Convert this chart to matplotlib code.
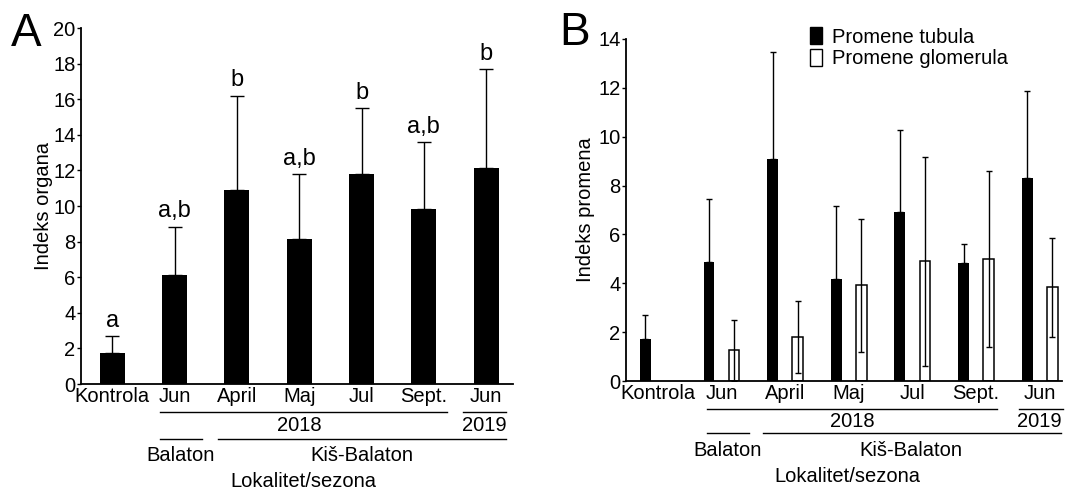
import matplotlib
matplotlib.use("Agg")
import matplotlib.pyplot as plt
import matplotlib.transforms as mtransforms
from matplotlib.patches import Patch
import numpy as np

plt.rcParams['font.family'] = ['Liberation Sans', 'DejaVu Sans']

# ---------------- data ----------------
categories = ["Kontrola", "Jun", "April", "Maj", "Jul", "Sept.", "Jun"]
organ_mean = [1.74, 6.14, 10.9, 8.13, 11.8, 9.83, 12.15]
organ_err = [0.96, 2.70, 5.3, 3.67, 3.7, 3.77, 5.55]
organ_letters = ["a", "a,b", "b", "a,b", "b", "a,b", "b"]

tubula_mean = [1.74, 4.89, 9.08, 4.19, 6.91, 4.82, 8.32]
tubula_err = [0.96, 2.56, 4.37, 2.97, 3.36, 0.79, 3.54]
glom_mean = [0.0, 1.27, 1.80, 3.92, 4.90, 5.01, 3.84]
glom_err = [0.0, 1.25, 1.48, 2.71, 4.28, 3.60, 2.03]

yticks_a = [0, 2, 4, 6, 8, 10, 12, 14, 16, 18, 20]
yticks_b = [0, 2, 4, 6, 8, 10, 12, 14]
legend_labels = ["Promene tubula", "Promene glomerula"]

W, H = 1071, 491
fig = plt.figure(figsize=(W / 100, H / 100), dpi=100)

FS = 14.5
x = np.arange(len(categories))


def ax_rect(l, r, b, t):
    return [l / W, 1 - b / H, (r - l) / W, (b - t) / H]


def style_axis(ax):
    for s in ("top", "right"):
        ax.spines[s].set_visible(False)
    for s in ("left", "bottom"):
        ax.spines[s].set_linewidth(1.3)
    ax.tick_params(axis="y", direction="out", length=3, width=1, labelsize=FS, pad=1)
    ax.tick_params(axis="x", length=0, labelsize=FS, pad=2)


def groups(ax, ys):
    tr = mtransforms.blended_transform_factory(ax.transData, fig.transFigure)
    y1, y2, y3, y4, y5, seg = ys
    kw = dict(transform=tr, clip_on=False, color="black", lw=1.0)
    for (a, b) in seg[0]:
        ax.plot([a, b], [y1, y1], **kw)
    for (a, b) in seg[1]:
        ax.plot([a, b], [y3, y3], **kw)
    t = dict(transform=tr, ha="center", va="center", fontsize=FS)
    ax.text(seg[2][0], y2, "2018", **t)
    ax.text(seg[2][1], y2, "2019", **t)
    ax.text(seg[2][2], y4, "Balaton", **t)
    ax.text(seg[2][3], y4, "Kiš-Balaton", **t)
    ax.text(seg[2][4], y5, "Lokalitet/sezona", **t)


# ---------------- panel A ----------------
axA = fig.add_axes(ax_rect(81, 513, 384, 28))
axA.bar(x, organ_mean, width=0.4, color="black", zorder=2)
axA.errorbar(x, organ_mean, yerr=[np.zeros(len(x)), organ_err], fmt="none",
             ecolor="black", elinewidth=1.0, capsize=5, capthick=1.0, zorder=1)
for xi, m, e, lab in zip(x, organ_mean, organ_err, organ_letters):
    axA.annotate(lab, (xi, m + e), xytext=(0, 3), textcoords="offset points",
                 ha="center", va="bottom", fontsize=17)
axA.set_xlim(-0.5, 6.43)
axA.set_ylim(0, 20)
axA.set_yticks(yticks_a)
axA.set_xticks(x)
axA.set_xticklabels(categories)
style_axis(axA)
axA.set_ylabel("Indeks organa", fontsize=FS, labelpad=0)
fig.text(11 / W, 1 - 34 / H, "A", fontsize=33, ha="left", va="center")
groups(axA, (0.1603, 0.1344, 0.1053, 0.0719, 0.0190,
             ([(0.77, 5.37), (5.63, 6.32)], [(0.77, 1.44), (1.70, 6.32)],
              (3.0, 5.97, 1.09, 4.01, 3.07))))

# ---------------- panel B ----------------
axB = fig.add_axes(ax_rect(626, 1062, 381.3, 38.7))
off, bw = 0.197, 0.17
axB.bar(x - off, tubula_mean, width=bw, color="black", zorder=2)
axB.errorbar(x - off, tubula_mean, yerr=[np.zeros(len(x)), tubula_err], fmt="none",
             ecolor="black", elinewidth=1.0, capsize=2.5, capthick=1.0, zorder=1)
mask = np.array(glom_mean) > 0
axB.bar((x + off)[mask], np.array(glom_mean)[mask], width=bw, color="white",
        edgecolor="black", linewidth=1.1, zorder=2)
axB.errorbar((x + off)[mask], np.array(glom_mean)[mask],
             yerr=np.array(glom_err)[mask], fmt="none",
             ecolor="black", elinewidth=1.0, capsize=2.5, capthick=1.0, zorder=3)
axB.set_xlim(-0.5, 6.35)
axB.set_ylim(0, 14)
axB.set_yticks(yticks_b)
axB.set_xticks(x)
axB.set_xticklabels(categories)
style_axis(axB)
axB.set_ylabel("Indeks promena", fontsize=FS, labelpad=2)
fig.text(559 / W, 1 - 33 / H, "B", fontsize=33, ha="left", va="center")
handles = [Patch(facecolor="black", edgecolor="black"),
           Patch(facecolor="white", edgecolor="black")]
axB.legend(handles, legend_labels, loc="upper left",
           bbox_to_anchor=(810 / W, 1 - 27 / H), bbox_transform=fig.transFigure,
           frameon=False, fontsize=FS, handlelength=0.6, handleheight=0.95,
           handletextpad=0.5, labelspacing=0.1, borderpad=0, borderaxespad=0)
groups(axB, (0.167, 0.1411, 0.1175, 0.0835, 0.0305,
             ([(0.766, 5.33), (5.68, 6.36)], [(0.766, 1.43), (1.65, 6.33)],
              (3.06, 5.99, 1.1, 3.98, 2.98))))

fig.savefig("out.png", dpi=100)
